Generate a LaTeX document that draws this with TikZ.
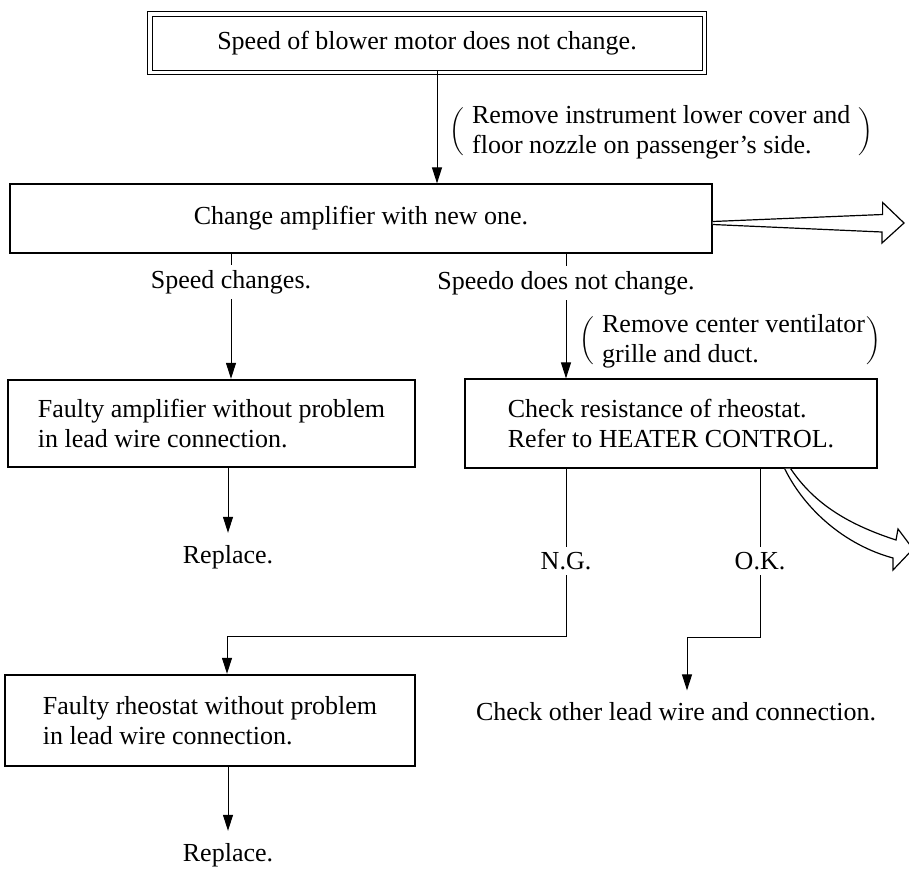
\documentclass[tikz,border=0pt]{standalone}
\usepackage{fontspec}
\setmainfont{Liberation Serif}
\usetikzlibrary{arrows.meta,calc}

\begin{document}
\begin{tikzpicture}[x=0.5pt, y=-0.5pt, >={Triangle[length=8pt,width=5pt]},
  every node/.style={font=\fontsize{13}{15}\selectfont},
  box/.style={draw, line width=0.6pt, inner sep=0pt, align=left},
  heavybox/.style={box, line width=1.2pt},
  note/.style={anchor=west, inner sep=0pt, execute at begin node={\delimiterfactor=750 \delimitershortfall=7pt}},
  lbl/.style={inner sep=2.5pt},
  endlbl/.style={inner xsep=2pt, inner ysep=6pt},
  hollow/.style={draw, line width=0.6pt, fill=white, line join=miter}]
  \useasboundingbox (0,0) rectangle (909,868);
  \node[box, line width=0.45pt, minimum width=275pt, minimum height=27pt] (top) at (427,43) {Speed of blower motor does not change.};
  \draw[line width=0.45pt] ($(top.south west)+(-4,4)$) rectangle ($(top.north east)+(4,-4)$);
  \node[box, minimum width=351pt, minimum height=34.5pt] (amp) at (361,218.5) {Change amplifier with new one.};
  \node[heavybox, minimum width=203.5pt, minimum height=43.5pt] (fampl) at (211.5,423.5) {Faulty amplifier without problem\\in lead wire connection.};
  \node[box, minimum width=206pt, minimum height=44.5pt] (chk) at (671,423.5) {Check resistance of rheostat.\\Refer to HEATER CONTROL.};
  \node[heavybox, minimum width=205pt, minimum height=45.5pt] (frheo) at (210,720.5) {Faulty rheostat without problem\\in lead wire connection.};
  \node[note] (note1) at (449,132) {$\left(\hspace{4pt}\begin{tabular}{@{}l@{}}Remove instrument lower cover and\\floor nozzle on passenger's side.\end{tabular}\hspace{4pt}\right)$};
  \node[note] (note2) at (579,341) {$\left(\hspace{4pt}\begin{tabular}{@{}l@{}}Remove center ventilator\\grille and duct.\end{tabular}\hspace{1pt}\right)$};
  \node[lbl] (spd) at (231,282) {Speed changes.};
  \node[lbl] (nochg) at (566,283) {Speedo does not change.};
  \node[lbl] (ng) at (566,561) {N.G.};
  \node[lbl] (ok) at (760,561) {O.K.};
  \node[endlbl] (rep1) at (228,557) {Replace.};
  \node[endlbl] (other) at (676,712) {Check other lead wire and connection.};
  \node[endlbl] (rep2) at (228,855) {Replace.};
  \coordinate (drop) at (437,0);
  \coordinate (ngbend) at (227,636);
  \coordinate (okbend) at (687,637);
  \coordinate (exit1) at (904,223);
  \coordinate (exit2) at (913,549);
  \begin{scope}[line width=0.5pt]
    \draw[->] (top.south -| drop) -- (amp.north -| drop);
    \draw (amp.south -| spd) -- (spd);
    \draw[->] (spd) -- (fampl.north -| spd);
    \draw (amp.south -| nochg) -- (nochg);
    \draw[->] (nochg) -- (chk.north -| nochg);
    \draw[->] (fampl.south -| rep1) -- (rep1);
    \draw (chk.south -| ng) -- (ng);
    \draw[->] (ng) |- (ngbend) -- (frheo.north -| ngbend);
    \draw (chk.south -| ok) -- (ok);
    \draw[->] (ok) |- (okbend) -- (other.north -| okbend);
    \draw[->] (frheo.south -| rep2) -- (rep2);
  \end{scope}
  \draw[hollow] ([yshift=-1.5pt]amp.east) -- ++(170,-7) -- ++(0,-12) -- (exit1) -- ++(-22,20) -- ++(0,-11) -- ([yshift=-3pt]amp.east);
  \draw[hollow] ($(chk.south east)+(-87,0)$) .. controls (815,505) and (850,525) .. (896,540) -- (898,529) -- (exit2) -- (893,570) -- (893,558) .. controls (845,545) and (805,510) .. ($(chk.south east)+(-93,0)$);
\end{tikzpicture}
\end{document}
